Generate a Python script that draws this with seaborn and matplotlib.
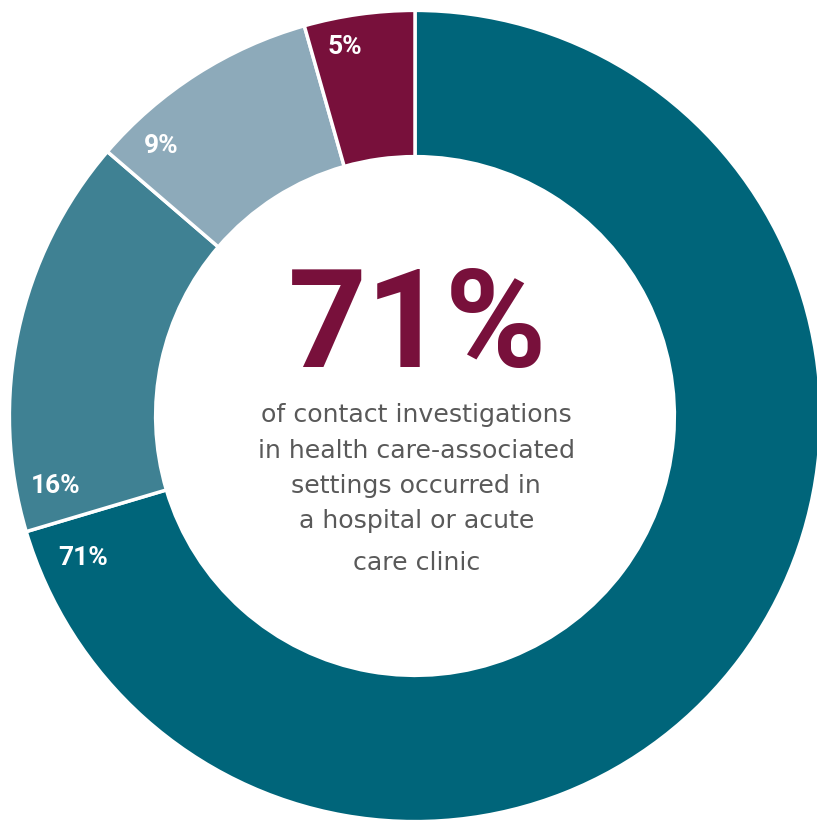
import matplotlib
matplotlib.use("Agg")
import matplotlib.pyplot as plt
import numpy as np
import seaborn as sns

# slice shares (clockwise from 12 o'clock)
categories = ["Hospital / acute care clinic", "Other setting A", "Other setting B", "Other setting C"]
shares = [70.4, 15.9, 9.3, 4.4]
slice_labels = ["71%", "16%", "9%", "5%"]
slice_colors = ["#00657A", "#3F8193", "#8DAABA", "#78103B"]

headline = "71%"
caption_lines = [
    "of contact investigations",
    "in health care-associated",
    "settings occurred in",
    "a hospital or acute",
    "care clinic",
]

sns.set_theme(style="white")
plt.rcParams["font.family"] = ["Roboto", "DejaVu Sans"]

fig = plt.figure(figsize=(8.17, 8.23), dpi=100)
ax = fig.add_axes([0, 0, 1, 1])

palette = sns.color_palette(slice_colors)
wedges, _ = ax.pie(shares, colors=palette, startangle=90, counterclock=False,
                   radius=1.004,
                   wedgeprops=dict(width=0.362, edgecolor="white", linewidth=2.5))

# label placement (angle in degrees, radius in ring units)
label_angles = [203.2, 191.0, 133.25, 100.8]
label_radii = [0.893, 0.905, 0.916, 0.929]
for lab, ang, r in zip(slice_labels, label_angles, label_radii):
    a = np.deg2rad(ang)
    ax.text(r * np.cos(a), r * np.sin(a), lab, ha="center", va="center",
            color="white", fontsize=19, fontweight="bold")

ax.text(0.006, 0.121, headline, ha="center", va="baseline", color="#78103B",
        fontsize=99, fontweight="bold")

caption_y = [-0.015, -0.104, -0.191, -0.277, -0.381]
for line, y in zip(caption_lines, caption_y):
    ax.text(0.003, y, line, ha="center", va="baseline", color="#595959",
            fontsize=18.2, family=["DejaVu Sans"])

ax.set_xlim(-415 / 404, (817 - 415) / 404)
ax.set_ylim(-(823 - 416) / 404, 416 / 404)
ax.set_aspect("auto")
ax.axis("off")

fig.savefig("out.png", dpi=100)
